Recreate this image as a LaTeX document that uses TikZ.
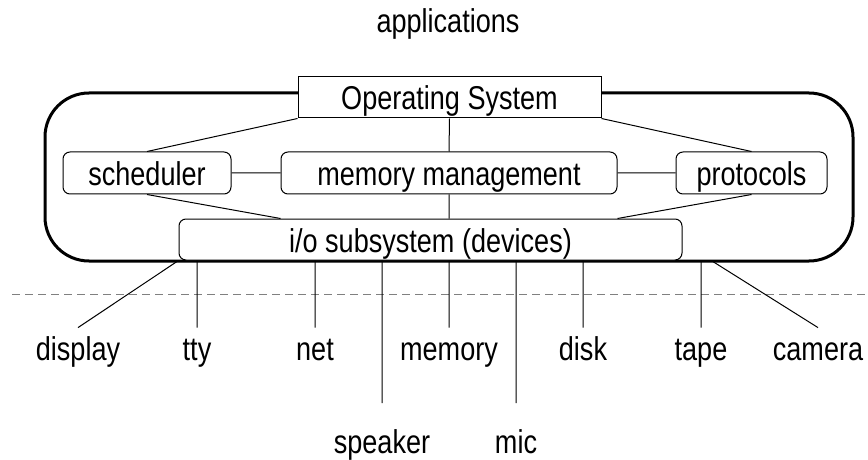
\documentclass[tikz,border=0pt]{standalone}
\usepackage{fontspec}
\setmainfont{Liberation Sans}[FakeStretch=0.82]
\usetikzlibrary{positioning}

\begin{document}
\begin{tikzpicture}[x=0.5pt,y=-0.5pt]
	\tikzstyle{every node}=[font=\fontsize{16.5pt}{19pt}\selectfont];
	\tikzstyle{part}=[draw,rounded corners=3.5pt,line width=0.5pt,minimum height=21pt,inner sep=0pt,fill=white,text height=12.5pt,text depth=0pt];
	\tikzstyle{dev}=[anchor=base,text height=11pt,text depth=3pt,inner xsep=2pt,inner ysep=5pt];
	\tikzstyle{devlow}=[dev,outer ysep=9pt];
	\tikzstyle{wire}=[line width=0.5pt];
	\useasboundingbox (0,0) rectangle (868,460);
	% top label and the kernel outline
	\path (448,33) node[anchor=base] (apps) {applications};
	\path (449,177) node[draw,line width=1.5pt,rounded corners=22pt,minimum width=404pt,minimum height=84pt] (kern) {};
	\path (449.5,97.5) node[part,rounded corners=0pt,minimum width=151.5pt,minimum height=20.5pt] (os) {Operating System};
	\path (147,173)   node[part,minimum width=84pt]    (sched) {scheduler};
	\path (449,173)   node[part,minimum width=168pt]   (mem)   {memory management};
	\path (751.5,173) node[part,minimum width=75.5pt]  (proto) {protocols};
	\path (430.5,239.5) node[part,minimum width=251.5pt,minimum height=20.5pt] (io) {i/o subsystem (devices)};
	\draw[wire] (os.south west) -- (sched.north)
	(os.south) -- (mem.north)
	(os.south east) -- (proto.north)
	(sched.east) -- (mem.west)
	(mem.east) -- (proto.west)
	(sched.south) -- (io.north -| mem.west)
	(mem.south) -- (mem.south |- io.north)
	(proto.south) -- (io.north -| mem.east);
	% the cut line
	\coordinate (cutL) at (12,294);
	\coordinate (cutR) at (868,294);
	\draw[gray,line width=0.5pt,dash pattern=on 4pt off 2.5pt] (cutL) -- (cutR);
	% devices
	\path (78,360)  node[dev] (display) {display};
	\path (197,360) node[dev] (tty)     {tty};
	\path (315,360) node[dev] (net)     {net};
	\path (449,360) node[dev] (memdev)  {memory};
	\path (583,360) node[dev] (disk)    {disk};
	\path (701,360) node[dev] (tape)    {tape};
	\path (818,360) node[dev] (camera)  {camera};
	\path (382,453) node[devlow] (speaker) {speaker};
	\path (516,453) node[devlow] (mic)     {mic};
	\coordinate (camtop) at (712,261);
	\draw[wire] (io.south west) -- (display.north)
	(io.south -| tty.north) -- (tty.north)
	(io.south -| net.north) -- (net.north)
	(io.south -| speaker.north) -- (speaker.north)
	(io.south -| memdev.north) -- (memdev.north)
	(io.south -| mic.north) -- (mic.north)
	(io.south -| disk.north) -- (disk.north)
	(io.south -| tape.north) -- (tape.north)
	(camtop) -- (camera.north);
\end{tikzpicture}
\end{document}
